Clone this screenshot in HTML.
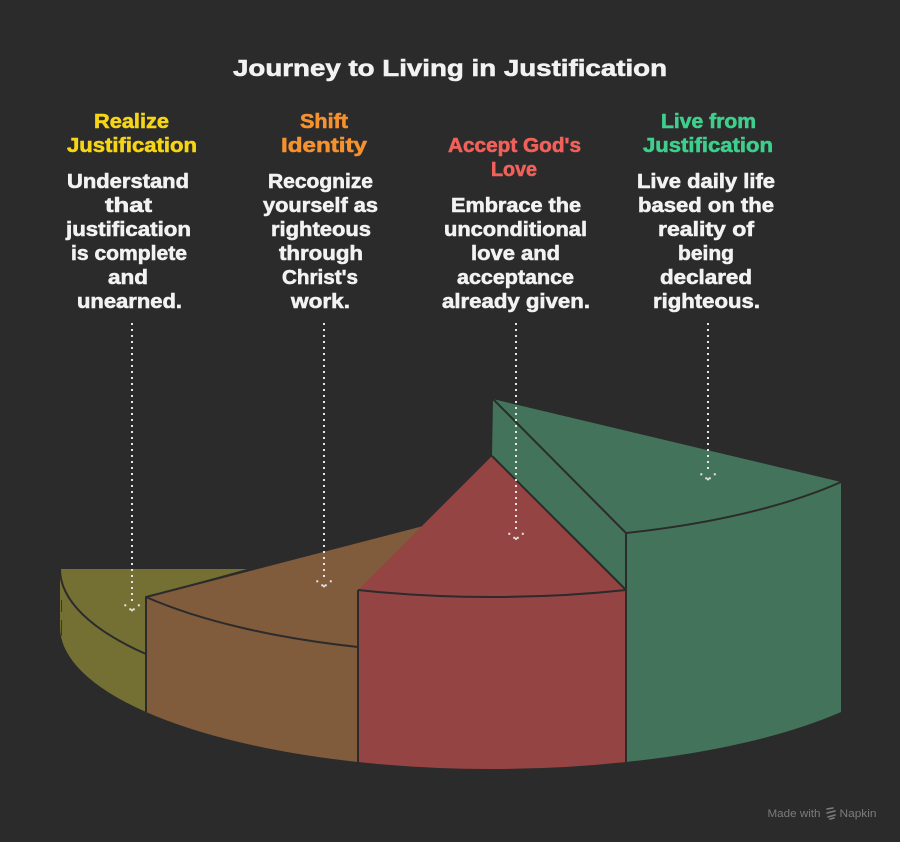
<!DOCTYPE html>
<html>
<head>
<meta charset="utf-8">
<style>
html,body{margin:0;padding:0;background:#2b2b2b;}
svg{display:block;}
text{font-family:"Liberation Sans","DejaVu Sans",sans-serif;font-weight:bold;}
</style>
</head>
<body>
<svg width="900" height="842" viewBox="0 0 900 842" xmlns="http://www.w3.org/2000/svg">
<rect x="0" y="0" width="900" height="842" fill="#2b2b2b"/>

<!-- Title -->
<text x="233" y="76" font-size="23" fill="#f2f2f2" stroke="#f2f2f2" stroke-width="0.6" textLength="434" lengthAdjust="spacingAndGlyphs">Journey to Living in Justification</text>

<!-- Column 1 -->
<g font-size="20" stroke-width="0.6">
<text x="94" y="128" fill="#f5d516" stroke="#f5d516" textLength="75" lengthAdjust="spacingAndGlyphs">Realize</text>
<text x="67" y="152" fill="#f5d516" stroke="#f5d516" textLength="130" lengthAdjust="spacingAndGlyphs">Justification</text>
<g fill="#f2f2f2" stroke="#f2f2f2">
<text x="67" y="188" textLength="122" lengthAdjust="spacingAndGlyphs">Understand</text>
<text x="105" y="212" textLength="47" lengthAdjust="spacingAndGlyphs">that</text>
<text x="66" y="236" textLength="125" lengthAdjust="spacingAndGlyphs">justification</text>
<text x="71" y="260" textLength="116" lengthAdjust="spacingAndGlyphs">is complete</text>
<text x="108" y="284" textLength="40" lengthAdjust="spacingAndGlyphs">and</text>
<text x="77" y="308" textLength="105" lengthAdjust="spacingAndGlyphs">unearned.</text>
</g>

<!-- Column 2 -->
<text x="300" y="128" fill="#f5922f" stroke="#f5922f" textLength="48" lengthAdjust="spacingAndGlyphs">Shift</text>
<text x="281" y="152" fill="#f5922f" stroke="#f5922f" textLength="86" lengthAdjust="spacingAndGlyphs">Identity</text>
<g fill="#f2f2f2" stroke="#f2f2f2">
<text x="268" y="188" textLength="105" lengthAdjust="spacingAndGlyphs">Recognize</text>
<text x="263" y="212" textLength="115" lengthAdjust="spacingAndGlyphs">yourself as</text>
<text x="271" y="236" textLength="100" lengthAdjust="spacingAndGlyphs">righteous</text>
<text x="279" y="260" textLength="84" lengthAdjust="spacingAndGlyphs">through</text>
<text x="282" y="284" textLength="76" lengthAdjust="spacingAndGlyphs">Christ's</text>
<text x="291" y="308" textLength="59" lengthAdjust="spacingAndGlyphs">work.</text>
</g>

<!-- Column 3 -->
<text x="448" y="152" fill="#f0615b" stroke="#f0615b" textLength="133" lengthAdjust="spacingAndGlyphs">Accept God's</text>
<text x="491" y="176" fill="#f0615b" stroke="#f0615b" textLength="46" lengthAdjust="spacingAndGlyphs">Love</text>
<g fill="#f2f2f2" stroke="#f2f2f2">
<text x="451" y="212" textLength="130" lengthAdjust="spacingAndGlyphs">Embrace the</text>
<text x="444" y="236" textLength="143" lengthAdjust="spacingAndGlyphs">unconditional</text>
<text x="471" y="260" textLength="89" lengthAdjust="spacingAndGlyphs">love and</text>
<text x="457" y="284" textLength="117" lengthAdjust="spacingAndGlyphs">acceptance</text>
<text x="442" y="308" textLength="148" lengthAdjust="spacingAndGlyphs">already given.</text>
</g>

<!-- Column 4 -->
<text x="661" y="128" fill="#3fcf8c" stroke="#3fcf8c" textLength="95" lengthAdjust="spacingAndGlyphs">Live from</text>
<text x="643" y="152" fill="#3fcf8c" stroke="#3fcf8c" textLength="130" lengthAdjust="spacingAndGlyphs">Justification</text>
<g fill="#f2f2f2" stroke="#f2f2f2">
<text x="637" y="188" textLength="138" lengthAdjust="spacingAndGlyphs">Live daily life</text>
<text x="638" y="212" textLength="136" lengthAdjust="spacingAndGlyphs">based on the</text>
<text x="658" y="236" textLength="96" lengthAdjust="spacingAndGlyphs">reality of</text>
<text x="678" y="260" textLength="56" lengthAdjust="spacingAndGlyphs">being</text>
<text x="660" y="284" textLength="92" lengthAdjust="spacingAndGlyphs">declared</text>
<text x="653" y="308" textLength="107" lengthAdjust="spacingAndGlyphs">righteous.</text>
</g>
</g>

<!-- Olive slice -->
<path d="M60 569 L247 569 L146 597 L146 712 A432 142 0 0 1 60 627 Z" fill="#746f32"/>
<path d="M60 569 A432 142 0 0 0 146 654" fill="none" stroke="#2b2b2b" stroke-width="2"/>
<path d="M61.5 600 L61.5 612 M61.5 620 L61.5 636" fill="none" stroke="#3a3a2a" stroke-width="1"/>

<!-- Brown slice -->
<path d="M146 597 L430 523 L358 600 L358 762 A432 142 0 0 1 146 712 Z" fill="#805b3c"/>
<path d="M146 597 A432 142 0 0 0 358 647" fill="none" stroke="#2b2b2b" stroke-width="2"/>
<path d="M146 712 L146 597 L423 525" fill="none" stroke="#2b2b2b" stroke-width="2"/>

<!-- Red slice -->
<path d="M358 590 L492 456 L626 590 L626 762 A432 142 0 0 1 358 762 Z" fill="#944543"/>
<path d="M358 590 A432 142 0 0 0 626 590" fill="none" stroke="#2b2b2b" stroke-width="2"/>
<path d="M358 590 L358 762" fill="none" stroke="#2b2b2b" stroke-width="2"/>

<!-- Green slice -->
<path d="M493 399 L841 482 L841 712 A432 142 0 0 1 626 762 L626 590 L492 456 Z" fill="#43735a"/>
<path d="M493 399 L626 533 L626 762" fill="none" stroke="#2b2b2b" stroke-width="2"/>
<path d="M626 533 A432 142 0 0 0 841 482" fill="none" stroke="#2b2b2b" stroke-width="2"/>
<path d="M492 456 L626 590" fill="none" stroke="#2b2b2b" stroke-width="2"/>

<!-- Dotted leader lines -->
<g stroke="#e6e6e6" stroke-width="2" fill="none" stroke-dasharray="2 4">
<line x1="132" y1="323" x2="132" y2="604"/>
<line x1="324" y1="323" x2="324" y2="580"/>
<line x1="516" y1="323" x2="516" y2="532"/>
<line x1="708" y1="323" x2="708" y2="473"/>
</g>
<g fill="#e6e6e6">
<!-- arrow 1 -->
<rect x="124.3" y="604.3" width="2" height="2"/><rect x="137.8" y="604.3" width="2" height="2"/>
<rect x="129.3" y="608.3" width="2" height="2"/><rect x="131" y="609.3" width="2" height="2"/><rect x="132.8" y="608.3" width="2" height="2"/>
<!-- arrow 2 -->
<rect x="316.3" y="580.3" width="2" height="2"/><rect x="329.8" y="580.3" width="2" height="2"/>
<rect x="321.3" y="584.3" width="2" height="2"/><rect x="323" y="585.3" width="2" height="2"/><rect x="324.8" y="584.3" width="2" height="2"/>
<!-- arrow 3 -->
<rect x="508.3" y="532.8" width="2" height="2"/><rect x="521.8" y="532.8" width="2" height="2"/>
<rect x="513.3" y="536.8" width="2" height="2"/><rect x="515" y="537.8" width="2" height="2"/><rect x="516.8" y="536.8" width="2" height="2"/>
<!-- arrow 4 -->
<rect x="700.3" y="473.3" width="2" height="2"/><rect x="713.8" y="473.3" width="2" height="2"/>
<rect x="705.3" y="477.3" width="2" height="2"/><rect x="707" y="478.3" width="2" height="2"/><rect x="708.8" y="477.3" width="2" height="2"/>
</g>

<!-- Watermark -->
<text x="767.5" y="817" font-size="11" fill="#7c7c7c" style="font-weight:normal" textLength="53" lengthAdjust="spacingAndGlyphs">Made with</text>
<g stroke="#7c7c7c" stroke-width="1.6" fill="none" stroke-linecap="round">
<path d="M827 809 L833 808"/>
<path d="M827 813 L835 811"/>
<path d="M828 817 L835 815"/>
<path d="M830 819 L834 818"/>
</g>
<text x="839.5" y="817" font-size="11" fill="#7c7c7c" style="font-weight:normal" textLength="37" lengthAdjust="spacingAndGlyphs">Napkin</text>
</svg>
</body>
</html>
